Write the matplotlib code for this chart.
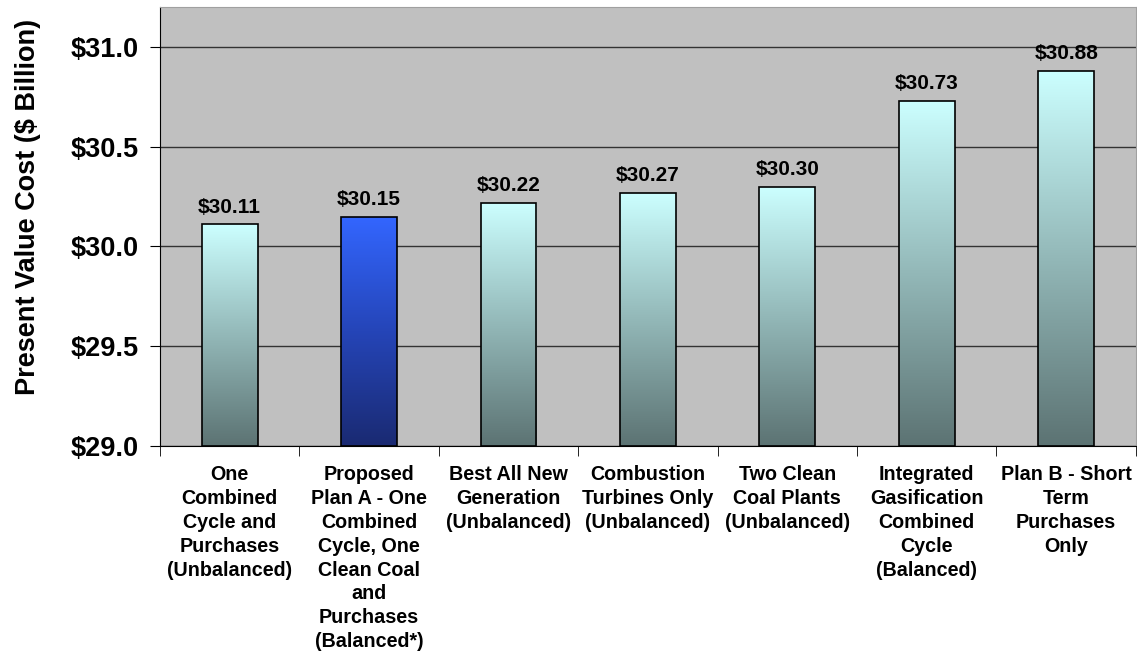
import matplotlib.pyplot as plt
import numpy as np
from matplotlib.colors import LinearSegmentedColormap

plt.rcParams['font.family'] = ['Liberation Sans', 'DejaVu Sans']
plt.rcParams['font.weight'] = 'bold'

categories = [
    "One\nCombined\nCycle and\nPurchases\n(Unbalanced)",
    "Proposed\nPlan A - One\nCombined\nCycle, One\nClean Coal\nand\nPurchases\n(Balanced*)",
    "Best All New\nGeneration\n(Unbalanced)",
    "Combustion\nTurbines Only\n(Unbalanced)",
    "Two Clean\nCoal Plants\n(Unbalanced)",
    "Integrated\nGasification\nCombined\nCycle\n(Balanced)",
    "Plan B - Short\nTerm\nPurchases\nOnly",
]
values = [30.11, 30.15, 30.22, 30.27, 30.30, 30.73, 30.88]
highlight = 1  # proposed plan

y_min, y_max = 29.0, 31.2
y_ticks = [29.0, 29.5, 30.0, 30.5, 31.0]

teal = LinearSegmentedColormap.from_list("teal", ["#5c7373", "#93b8b8", "#ccffff"])
blue = LinearSegmentedColormap.from_list("blue", ["#1a2a72", "#2545b8", "#3366ff"])

fig = plt.figure(figsize=(11.37, 6.58), dpi=100)
ax = fig.add_axes([0.1407, 0.3222, 0.8583, 0.6672])
ax.set_facecolor("#c0c0c0")

x = np.arange(len(values))
bars = ax.bar(x, [v - y_min for v in values], bottom=y_min, width=0.4,
              color="none", edgecolor="black", linewidth=1.2, zorder=3)

grad = np.linspace(0, 1, 256).reshape(-1, 1)
for i, b in enumerate(bars):
    cmap = blue if i == highlight else teal
    x0, y0 = b.get_x(), b.get_y()
    w, h = b.get_width(), b.get_height()
    im = ax.imshow(grad, cmap=cmap, origin="lower", aspect="auto",
                   extent=[x0, x0 + w, y0, y0 + h], zorder=2)
    im.set_clip_path(b)
    ax.text(x0 + w / 2, y0 + h + 0.04, f"${values[i]:.2f}", ha="center",
            va="bottom", fontsize=15, fontweight="bold", zorder=4)

ax.set_xlim(-0.5, len(values) - 0.5)
ax.set_ylim(y_min, y_max)
ax.set_yticks(y_ticks)
ax.set_yticklabels([f"${t:.1f}" for t in y_ticks], fontsize=19.5, fontweight="bold")
ax.yaxis.grid(True, color="#333333", linewidth=1.0, zorder=1)
ax.set_axisbelow(True)

ax.set_xticks(x)
ax.set_xticklabels(categories, fontsize=14.2, fontweight="bold", linespacing=1.32, va="top")
ax.tick_params(axis="x", length=0, pad=14)
ax.set_xticks(np.arange(-0.5, len(values), 1), minor=True)
ax.tick_params(axis="x", which="minor", length=7, direction="out", color="black")
ax.tick_params(axis="y", length=7, direction="out", color="black", pad=8)

ax.set_ylabel("Present Value Cost ($ Billion)", fontsize=19.5, fontweight="bold")
ax.yaxis.set_label_coords(-0.122, 0.544)

ax.spines["left"].set_color("black")
ax.spines["bottom"].set_color("black")
ax.spines["top"].set_color("#a0a0a0")
ax.spines["right"].set_color("#a0a0a0")

fig.savefig("out.png", dpi=100)
